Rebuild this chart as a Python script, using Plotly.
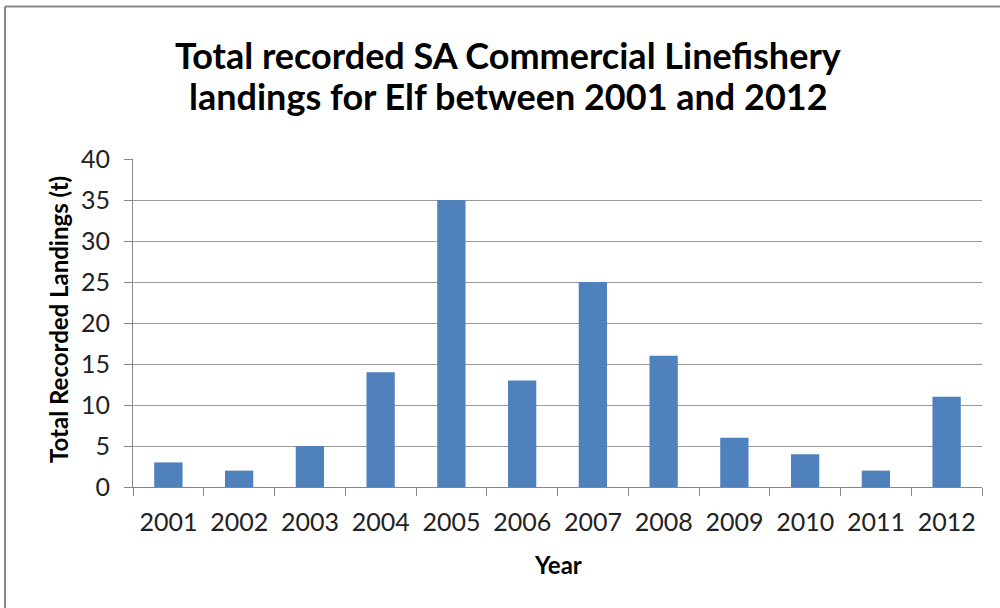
import plotly.graph_objects as go

# Annual landings (tonnes) of Elf in the SA commercial linefishery
years = ["2001", "2002", "2003", "2004", "2005", "2006",
         "2007", "2008", "2009", "2010", "2011", "2012"]
landings = [3, 2, 5, 14, 35, 13, 25, 16, 6, 4, 2, 11]
y_ticks = [0, 5, 10, 15, 20, 25, 30, 35, 40]
title_lines = ["Total recorded SA Commercial Linefishery",
               "landings for Elf between 2001 and 2012"]

W, H = 1000, 608
ML, MR, MT, MB = 133, 18, 159, 121
PW, PH = W - ML - MR, H - MT - MB

def px_x(x):
    return (x - ML) / PW

def px_y(y):
    return (H - MB - y) / PH

FONT = "Lato"
AXIS_GREY = "#868686"
GRID_GREY = "#9a9a9a"

fig = go.Figure(
    go.Bar(
        x=years,
        y=landings,
        marker=dict(color="#4F81BD", line=dict(width=0)),
        width=0.4,
    )
)

fig.update_layout(
    width=W,
    height=H,
    margin=dict(l=ML, r=MR, t=MT, b=MB),
    paper_bgcolor="white",
    plot_bgcolor="white",
    showlegend=False,
    font=dict(family=FONT, color="#222222"),
)

fig.update_xaxes(
    type="category",
    showline=True, linecolor=AXIS_GREY, linewidth=1,
    ticks="outside", tickson="boundaries", ticklen=8, tickcolor=AXIS_GREY,
    tickfont=dict(family=FONT, size=25, color="#222222"),
    showgrid=False, zeroline=False, ticklabelstandoff=13,
)
fig.update_yaxes(
    range=[0, 40], tickvals=y_ticks,
    showline=True, linecolor=AXIS_GREY, linewidth=1,
    ticks="outside", ticklen=8, tickcolor=AXIS_GREY,
    tickfont=dict(family=FONT, size=25, color="#222222"),
    showgrid=True, gridcolor=GRID_GREY, gridwidth=1,
    zeroline=False, ticklabelstandoff=9,
)

# Two-line chart title, set line by line for tighter spacing
for line, cy in zip(title_lines, [55, 96]):
    fig.add_annotation(
        text="<b>" + line + "</b>",
        xref="paper", yref="paper", x=px_x(508), y=px_y(cy),
        xanchor="center", yanchor="middle", showarrow=False,
        font=dict(family=FONT, size=36, color="#000000"),
    )

# Axis titles
fig.add_annotation(
    text="<b>Total Recorded Landings (t)</b>", textangle=-90,
    xref="paper", yref="paper", x=px_x(58), y=px_y(320),
    xanchor="center", yanchor="middle", showarrow=False,
    font=dict(family=FONT, size=24, color="#000000"),
)
fig.add_annotation(
    text="<b>Year</b>",
    xref="paper", yref="paper", x=px_x(558), y=px_y(564),
    xanchor="center", yanchor="middle", showarrow=False,
    font=dict(family=FONT, size=24, color="#000000"),
)

# Chart-area frame (top and left edges visible)
fig.add_shape(type="line", xref="paper", yref="paper",
              x0=px_x(5), x1=px_x(1000), y0=px_y(6.5), y1=px_y(6.5),
              line=dict(color="#878787", width=2))
fig.add_shape(type="line", xref="paper", yref="paper",
              x0=px_x(5), x1=px_x(5), y0=px_y(6.5), y1=px_y(608),
              line=dict(color="#878787", width=2))

fig.write_html("out.html")
